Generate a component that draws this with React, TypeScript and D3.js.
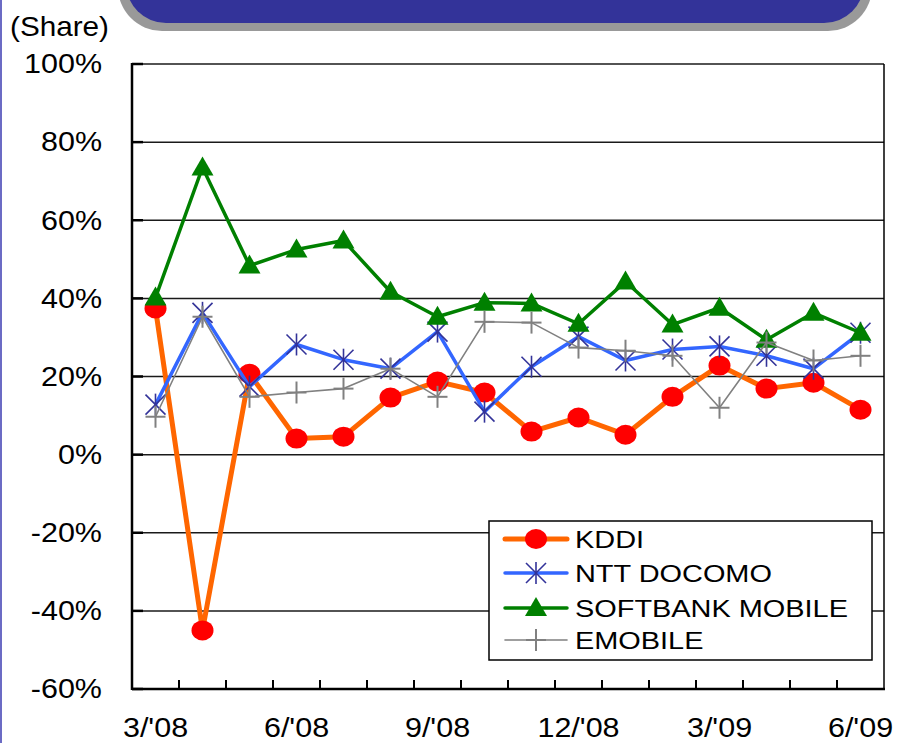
import React from "react";
import * as d3 from "d3";

// Monthly share data, 3/'08 – 6/'09
const months = [
  "3/'08", "4/'08", "5/'08", "6/'08", "7/'08", "8/'08", "9/'08", "10/'08",
  "11/'08", "12/'08", "1/'09", "2/'09", "3/'09", "4/'09", "5/'09", "6/'09",
];
const tickLabels = ["3/'08", "6/'08", "9/'08", "12/'08", "3/'09", "6/'09"];
const yTicks = [-60, -40, -20, 0, 20, 40, 60, 80, 100];

const kddi = [37.4, -45.0, 20.7, 4.1, 4.6, 14.6, 18.7, 15.9, 5.9, 9.5, 5.1, 14.8, 22.8, 16.9, 18.4, 11.5];
const docomo = [12.8, 36.3, 17.4, 28.2, 24.3, 22.0, 31.5, 11.0, 22.5, 30.2, 24.1, 26.9, 27.7, 25.3, 22.0, 31.2];
const softbank = [40.2, 73.5, 48.4, 52.5, 54.8, 41.7, 35.3, 38.9, 38.7, 33.5, 44.3, 33.3, 37.6, 29.4, 36.3, 31.2];
const emobile = [9.7, 35.3, 14.8, 15.9, 16.9, 22.0, 14.8, 34.0, 33.8, 27.4, 26.6, 25.3, 12.0, 28.7, 24.1, 25.3];

const seriesNames = ["KDDI", "NTT DOCOMO", "SOFTBANK MOBILE", "EMOBILE"];

const W = 901;
const H = 743;
const plot = { left: 132, right: 884, top: 64, bottom: 689 };
const FONT = "'Liberation Sans', Arial, sans-serif";

type MarkerKind = "circle" | "star" | "triangle" | "plus";

function Marker({ kind, x, y }: { kind: MarkerKind; x: number; y: number }) {
  if (kind === "circle") {
    return <ellipse cx={x} cy={y} rx={11} ry={10} fill="#ff0000" />;
  }
  if (kind === "triangle") {
    return (
      <path
        d={`M${x},${y - 11} L${x + 11},${y + 8} L${x - 11},${y + 8} Z`}
        fill="#008000"
      />
    );
  }
  if (kind === "star") {
    const s = 10;
    return (
      <g stroke="#333399" strokeWidth={1.6}>
        <line x1={x - s} y1={y - s} x2={x + s} y2={y + s} />
        <line x1={x - s} y1={y + s} x2={x + s} y2={y - s} />
        <line x1={x} y1={y - s - 1} x2={x} y2={y + s + 1} />
      </g>
    );
  }
  const s = 10;
  return (
    <g stroke="#808080" strokeWidth={2}>
      <line x1={x - s} y1={y} x2={x + s} y2={y} />
      <line x1={x} y1={y - s - 1} x2={x} y2={y + s + 1} />
    </g>
  );
}

function Label({
  x, y, text, size, anchor = "start", sx = 1.13,
}: { x: number; y: number; text: string; size: number; anchor?: "start" | "middle" | "end"; sx?: number }) {
  return (
    <text
      transform={`translate(${x},${y}) scale(${sx},1)`}
      fontFamily={FONT}
      fontSize={size}
      textAnchor={anchor}
      dominantBaseline="central"
      fill="#000"
    >
      {text}
    </text>
  );
}

export default function App() {
  const x = d3.scaleBand<string>().domain(months).range([plot.left, plot.right]);
  const y = d3.scaleLinear().domain([-60, 100]).range([plot.bottom, plot.top]);
  const cx = (m: string) => (x(m) as number) + x.bandwidth() / 2;

  const line = d3
    .line<number>()
    .x((_, i) => cx(months[i]))
    .y((d) => y(d));

  const series = [
    { name: seriesNames[0], data: kddi, color: "#ff6600", width: 5, marker: "circle" as MarkerKind },
    { name: seriesNames[1], data: docomo, color: "#3366ff", width: 3.5, marker: "star" as MarkerKind },
    { name: seriesNames[2], data: softbank, color: "#008000", width: 3.5, marker: "triangle" as MarkerKind },
    { name: seriesNames[3], data: emobile, color: "#808080", width: 1.6, marker: "plus" as MarkerKind },
  ];

  const legend = { x: 489, y: 521, w: 383, h: 139 };
  const legendRows = [539, 573, 608, 640];

  return (
    <svg
      width={W}
      height={H}
      style={{ position: "absolute", left: 0, top: 0, background: "#fff" }}
    >
      {/* slide border */}
      <rect x={0} y={0} width={2} height={H} fill="#6b6bc4" />

      {/* title banner */}
      <rect x={118} y={-80} width={754} height={111} rx={44} ry={44} fill="#999999" />
      <rect x={126} y={-80} width={738} height={103} rx={40} ry={40} fill="#333399" />

      <Label x={10} y={26} text="(Share)" size={27} sx={1.1} />

      {/* gridlines */}
      {yTicks.map((t) => (
        <line
          key={t}
          x1={plot.left}
          x2={plot.right}
          y1={y(t)}
          y2={y(t)}
          stroke="#1a1a1a"
          strokeWidth={1.5}
        />
      ))}
      {/* y tick marks */}
      {yTicks.map((t) => (
        <line
          key={"yt" + t}
          x1={plot.left}
          x2={plot.left + 11}
          y1={y(t)}
          y2={y(t)}
          stroke="#000"
          strokeWidth={2.5}
        />
      ))}
      {/* x tick marks on band boundaries */}
      {months.slice(1).map((m) => (
        <line
          key={"xt" + m}
          x1={x(m) as number}
          x2={x(m) as number}
          y1={plot.bottom}
          y2={plot.bottom - 9}
          stroke="#000"
          strokeWidth={2}
        />
      ))}
      {/* frame */}
      <line x1={plot.right} x2={plot.right} y1={plot.top} y2={plot.bottom} stroke="#000" strokeWidth={1.5} />
      <line x1={plot.left} x2={plot.left} y1={plot.top - 1} y2={plot.bottom + 1} stroke="#000" strokeWidth={2.5} />
      <line x1={plot.left} x2={plot.right + 1} y1={plot.bottom} y2={plot.bottom} stroke="#000" strokeWidth={2.5} />

      {/* y labels */}
      {yTicks.map((t) => (
        <Label key={"yl" + t} x={102} y={y(t)} text={`${t}%`} size={27} anchor="end" />
      ))}
      {/* x labels */}
      {tickLabels.map((m) => (
        <Label key={"xl" + m} x={cx(m)} y={728} text={m} size={27} anchor="middle" />
      ))}

      {/* series */}
      {series.map((s) => (
        <g key={s.name}>
          <path d={line(s.data) || ""} fill="none" stroke={s.color} strokeWidth={s.width} strokeLinejoin="round" />
          {s.data.map((v, i) => (
            <Marker key={i} kind={s.marker} x={cx(months[i])} y={y(v)} />
          ))}
        </g>
      ))}

      {/* legend */}
      <rect x={legend.x} y={legend.y} width={legend.w} height={legend.h} fill="#fff" stroke="#000" strokeWidth={1.5} />
      {series.map((s, i) => (
        <g key={"lg" + s.name}>
          <line x1={505} x2={567} y1={legendRows[i]} y2={legendRows[i]} stroke={s.color} strokeWidth={s.width} strokeLinecap="round" />
          <Marker kind={s.marker} x={536} y={legendRows[i]} />
          <Label x={575} y={legendRows[i] + 1} text={s.name} size={24.5} sx={1.18} />
        </g>
      ))}
    </svg>
  );
}
